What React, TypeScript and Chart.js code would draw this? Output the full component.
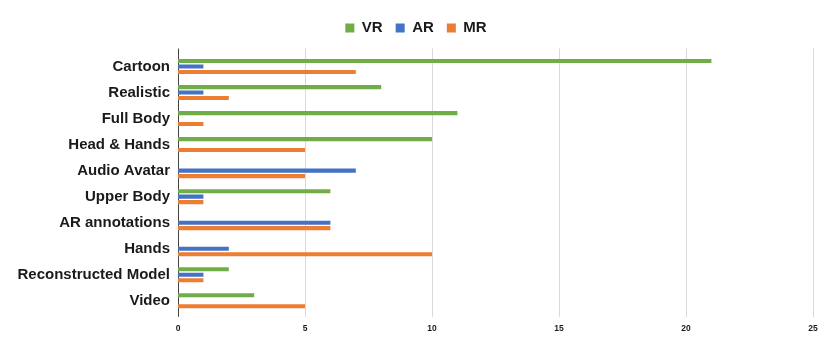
import React, { useEffect, useRef } from "react";
import { Chart, registerables } from "chart.js";

Chart.register(...registerables);

const categories = [
  "Cartoon",
  "Realistic",
  "Full Body",
  "Head & Hands",
  "Audio Avatar",
  "Upper Body",
  "AR annotations",
  "Hands",
  "Reconstructed Model",
  "Video",
];
const vrValues = [21, 8, 11, 10, 0, 6, 0, 0, 2, 3];
const arValues = [1, 1, 0, 0, 7, 1, 6, 2, 1, 0];
const mrValues = [7, 2, 1, 5, 5, 1, 6, 10, 1, 5];
const xTicks = [0, 5, 10, 15, 20, 25];

const legendMargin = {
  id: "legendMargin",
  beforeInit(chart: any) {
    const fit = chart.legend.fit;
    chart.legend.fit = function () {
      fit.bind(this)();
      this.height += 8;
    };
  },
  afterUpdate(chart: any) {
    const lg = chart.legend;
    if (lg) {
      lg.left += 9.5;
      lg.right += 9.5;
    }
  },
};

const gridPlugin = {
  id: "customGrid",
  beforeDatasetsDraw(chart: any) {
    const { ctx, chartArea, scales } = chart;
    const top = chartArea.top - 5;
    const bottom = chartArea.bottom + 3;
    ctx.save();
    ctx.lineWidth = 1;
    ctx.strokeStyle = "#d9d9d9";
    xTicks.forEach((v) => {
      if (v === 0) return;
      const x = Math.round(scales.x.getPixelForValue(v)) + 0.5;
      ctx.beginPath();
      ctx.moveTo(x, top);
      ctx.lineTo(x, bottom);
      ctx.stroke();
    });
    ctx.strokeStyle = "#444";
    const x0 = Math.round(scales.x.getPixelForValue(0)) + 0.5;
    ctx.beginPath();
    ctx.moveTo(x0, top);
    ctx.lineTo(x0, bottom);
    ctx.stroke();
    ctx.restore();
  },
};

export default function App() {
  const ref = useRef<HTMLCanvasElement | null>(null);
  useEffect(() => {
    if (!ref.current) return;
    const font = "'Liberation Sans', Arial, sans-serif";
    const chart = new Chart(ref.current, {
      type: "bar",
      data: {
        labels: categories,
        datasets: [
          { label: "VR", data: vrValues, backgroundColor: "#70AD47" },
          { label: "AR", data: arValues, backgroundColor: "#4472C4" },
          { label: "MR", data: mrValues, backgroundColor: "#ED7D31" },
        ],
      },
      plugins: [legendMargin, gridPlugin],
      options: {
        indexAxis: "y",
        animation: false,
        responsive: false,
        maintainAspectRatio: false,
        datasets: { bar: { categoryPercentage: 0.63, barPercentage: 0.75 } },
        layout: { padding: { top: 7.5, right: 17, bottom: 6, left: 0 } },
        plugins: {
          legend: {
            position: "top",
            labels: {
              boxWidth: 9,
              boxHeight: 9,
              padding: 13,
              color: "#1a1a1a",
              font: { family: font, size: 15, weight: "bold" },
            },
          },
          tooltip: { enabled: false },
        },
        scales: {
          x: {
            min: 0,
            max: 25,
            afterBuildTicks: (axis: any) => {
              axis.ticks = xTicks.map((v) => ({ value: v }));
            },
            grid: { display: false, drawTicks: false },
            border: { display: false },
            ticks: {
              padding: 10,
              color: "#1a1a1a",
              font: { family: font, size: 8.5, weight: "bold" },
            },
          },
          y: {
            grid: { display: false, drawTicks: false },
            border: { display: false },
            ticks: {
              padding: 8,
              color: "#1a1a1a",
              font: { family: font, size: 15, weight: "bold" },
            },
            afterFit: (axis: any) => {
              axis.width = 178;
            },
          },
        },
      },
    });
    return () => chart.destroy();
  }, []);
  return (
    <div style={{ position: "absolute", left: 0, top: 0, width: 830, height: 350, background: "#fff" }}>
      <canvas ref={ref} width={830} height={350} />
    </div>
  );
}
